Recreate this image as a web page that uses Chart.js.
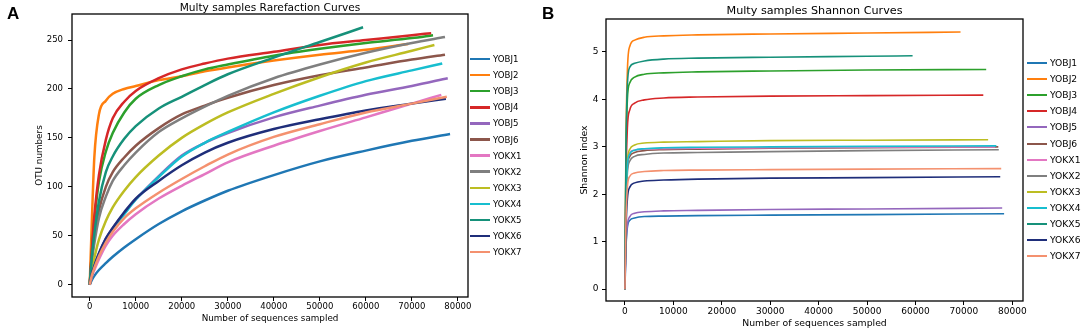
<!DOCTYPE html>
<html>
<head>
<meta charset="utf-8">
<script src="https://cdn.jsdelivr.net/npm/chart.js@4.4.0/dist/chart.umd.min.js"></script>
<style>
  body { margin: 0; background: #fff; width: 1084px; height: 330px; overflow: hidden; font-family: "DejaVu Sans", sans-serif; color: #000; }
  .panel { position: absolute; top: 0; height: 330px; }
  .panel canvas { position: absolute; left: 0; top: 0; }
  .txt { position: absolute; white-space: nowrap; line-height: 1; }
  .center { transform: translate(-50%, -50%); }
  .letter { font: bold 17px "Liberation Sans", Arial, sans-serif; line-height: 17px; }
  .swatch { position: absolute; }
</style>
</head>
<body>
<div class="panel" style="left:0;width:540px"><canvas id="rare" width="540" height="330"></canvas></div>
<div class="panel" style="left:540px;width:544px"><canvas id="shannon" width="544" height="330"></canvas></div>
<div id="overlay"></div>

<script>
// sample names and line colours
const samples = ["YOBJ1", "YOBJ2", "YOBJ3", "YOBJ4", "YOBJ5", "YOBJ6", "YOKX1", "YOKX2", "YOKX3", "YOKX4", "YOKX5", "YOKX6", "YOKX7"];
const colors = ["#1f77b4", "#ff7f0e", "#2ca02c", "#d62728", "#9467bd", "#8c564b", "#e377c2", "#7f7f7f", "#bcbd22", "#17becf", "#16917a", "#1f2e7a", "#f4916f"];

// A: rarefaction, sequences sampled grid + OTU numbers per sample
const rareGrid = [0, 500, 1000, 2000, 3500, 5000, 7500, 10000, 15000, 20000, 25000, 30000, 40000, 50000, 60000, 70000];
const otuYOBJ1 = [0, 5, 9, 15, 22, 28.5, 38, 46.5, 62, 75, 86, 96, 112, 126, 137, 147];
const otuYOBJ2 = [0, 70, 130, 174, 188, 195, 200, 203, 209, 213, 218, 222, 229, 235, 240];
const otuYOBJ3 = [0, 35, 65, 105, 136, 155, 176, 190, 204, 213, 220, 225, 234, 241, 247, 252];
const otuYOBJ4 = [0, 38, 70, 112, 148, 170, 187, 198, 211, 220, 226, 231, 238, 245, 250, 255];
const otuYOBJ5 = [0, 12, 20, 32, 47, 58, 73, 87, 111, 132, 145, 155, 171, 183, 194, 203];
const otuYOBJ6 = [0, 28, 48, 76, 100, 115, 130, 142, 160, 174, 183, 191, 204, 214, 222, 230];
const otuYOKX1 = [0, 9, 15, 26, 40, 50, 62, 72, 88, 101, 113, 125, 142, 157, 171, 185];
const otuYOKX2 = [0, 25, 42, 68, 90, 106, 122, 135, 156, 170, 182, 193, 211, 225, 237, 247];
const otuYOKX3 = [0, 15, 27, 46, 65, 79, 96, 110, 132, 150, 164, 176, 195, 212, 227, 239];
const otuYOKX4 = [0, 11, 19, 31, 46, 57, 72, 87, 110, 131, 145, 156, 176, 193, 208, 219];
const otuYOKX5 = [0, 30, 52, 85, 115, 131, 149, 162, 180, 192, 204, 215, 232, 248];
const otuYOKX6 = [0, 11, 19, 32, 47, 58, 74, 88, 106, 122, 135, 145, 159, 169, 178, 185];
const otuYOKX7 = [0, 10, 17, 29, 43, 54, 68, 78, 94, 108, 121, 133, 151, 164, 176, 185];
const rareEndX = [78300, 69200, 74600, 74200, 77800, 77200, 76400, 77200, 74900, 76600, 59400, 77400, 77600];
const rareEndY = [154, 246, 255, 257, 211, 235, 194, 253, 245, 226, 263, 190, 192];

// B: Shannon index per sample
const shanGrid = [0, 200, 500, 1000, 2000, 4000, 8000, 15000, 30000, 50000];
const shanYOBJ1 = [0, 0.85, 1.30, 1.45, 1.50, 1.53, 1.54, 1.55, 1.56, 1.57];
const shanYOBJ2 = [0, 3.00, 4.60, 5.12, 5.25, 5.31, 5.34, 5.36, 5.38, 5.40];
const shanYOBJ3 = [0, 2.60, 4.00, 4.35, 4.47, 4.53, 4.56, 4.58, 4.60, 4.62];
const shanYOBJ4 = [0, 2.20, 3.40, 3.78, 3.92, 3.99, 4.03, 4.05, 4.07, 4.08];
const shanYOBJ5 = [0, 0.90, 1.35, 1.53, 1.60, 1.63, 1.65, 1.66, 1.68, 1.69];
const shanYOBJ6 = [0, 1.60, 2.55, 2.80, 2.88, 2.92, 2.94, 2.95, 2.97, 2.98];
const shanYOKX1 = [0, 1.70, 2.65, 2.88, 2.93, 2.95, 2.96, 2.97, 2.98, 2.99];
const shanYOKX2 = [0, 1.60, 2.45, 2.70, 2.80, 2.84, 2.87, 2.88, 2.90, 2.92];
const shanYOKX3 = [0, 1.80, 2.70, 2.95, 3.04, 3.08, 3.10, 3.11, 3.13, 3.14];
const shanYOKX4 = [0, 1.70, 2.60, 2.85, 2.93, 2.96, 2.98, 2.99, 3.00, 3.01];
const shanYOKX5 = [0, 2.80, 4.30, 4.68, 4.76, 4.81, 4.85, 4.87, 4.89, 4.91];
const shanYOKX6 = [0, 1.20, 1.90, 2.15, 2.24, 2.28, 2.30, 2.32, 2.34, 2.35];
const shanYOKX7 = [0, 1.40, 2.15, 2.38, 2.45, 2.48, 2.50, 2.51, 2.52, 2.53];
const shanEndX = [78300, 69300, 74600, 74000, 77900, 77100, 76400, 77200, 75000, 76700, 59400, 77500, 77700];
const shanEndY = [1.59, 5.42, 4.63, 4.09, 1.71, 3.00, 3.00, 2.94, 3.15, 3.02, 4.92, 2.37, 2.54];

// tick labels
const xTicks = [0, 10000, 20000, 30000, 40000, 50000, 60000, 70000, 80000];
const otuTicks = [0, 50, 100, 150, 200, 250];
const shanTicks = [0, 1, 2, 3, 4, 5];

const otuValues = [otuYOBJ1, otuYOBJ2, otuYOBJ3, otuYOBJ4, otuYOBJ5, otuYOBJ6, otuYOKX1, otuYOKX2, otuYOKX3, otuYOKX4, otuYOKX5, otuYOKX6, otuYOKX7];
const shanValues = [shanYOBJ1, shanYOBJ2, shanYOBJ3, shanYOBJ4, shanYOBJ5, shanYOBJ6, shanYOKX1, shanYOKX2, shanYOKX3, shanYOKX4, shanYOKX5, shanYOKX6, shanYOKX7];

function toPoints(grid, values, endX, endY) {
    const pts = values.map((v, i) => ({ x: grid[i], y: v }));
    pts.push({ x: endX, y: endY });
    return pts;
}

function makeDatasets(grid, all, endX, endY, width) {
    return samples.map((name, i) => ({
        label: name,
        data: toPoints(grid, all[i], endX[i], endY[i]),
        borderColor: colors[i],
        borderWidth: width,
        pointRadius: 0,
        fill: false,
        cubicInterpolationMode: "monotone",
        // later samples on top, like the original plot
        order: samples.length - i,
    }));
}

// box around the plot area
const frame = {
    id: "frame",
    afterDraw(chart) {
        const { ctx, chartArea: a } = chart;
        ctx.save();
        ctx.strokeStyle = "#000";
        ctx.lineWidth = 1.3;
        ctx.strokeRect(a.left, a.top, a.right - a.left, a.bottom - a.top);
        ctx.restore();
    },
};

function tickGrid() {
    return { display: true, drawOnChartArea: false, drawTicks: true, tickLength: 4, color: "#000", lineWidth: 1 };
}

function makeChart(id, cfg) {
    return new Chart(document.getElementById(id), {
        type: "line",
        data: { datasets: cfg.datasets },
        options: {
            responsive: false,
            animation: false,
            layout: { padding: { left: 0, top: cfg.top, right: cfg.right, bottom: 0 } },
            plugins: { legend: { display: false }, tooltip: { enabled: false } },
            scales: {
                x: {
                    type: "linear",
                    min: cfg.xMin,
                    max: cfg.xMax,
                    afterBuildTicks: (s) => { s.ticks = xTicks.map((v) => ({ value: v })); },
                    afterFit: (s) => { s.height = cfg.xHeight; },
                    ticks: { callback: (v) => String(v), color: "#000", font: { size: cfg.tickSize }, padding: cfg.xPad, maxRotation: 0, autoSkip: false },
                    grid: tickGrid(),
                    border: { display: false },
                    title: { display: true, text: "Number of sequences sampled", color: "#000", font: { size: cfg.labelSize }, padding: { top: 0, bottom: cfg.xTitlePad } },
                },
                y: {
                    type: "linear",
                    min: cfg.yMin,
                    max: cfg.yMax,
                    afterBuildTicks: (s) => { s.ticks = cfg.yTicks.map((v) => ({ value: v })); },
                    afterFit: (s) => { s.width = cfg.yWidth; },
                    ticks: { callback: (v) => String(v), color: "#000", font: { size: cfg.tickSize }, padding: cfg.yPad },
                    grid: tickGrid(),
                    border: { display: false },
                    title: { display: true, text: cfg.yTitle, color: "#000", font: { size: cfg.labelSize }, padding: { top: cfg.yTitlePad, bottom: 0 } },
                },
            },
        },
        plugins: [frame],
    });
}

Chart.defaults.font.family = "'DejaVu Sans', sans-serif";

makeChart("rare", {
    datasets: makeDatasets(rareGrid, otuValues, rareEndX, rareEndY, 2.5),
    top: 14, right: 72, xHeight: 33, yWidth: 72,
    xMin: -3850, xMax: 82200, yMin: -12.6, yMax: 276.6, yTicks: otuTicks,
    tickSize: 8.5, labelSize: 8.8, xPad: 1, yPad: 5, xTitlePad: 6.4, yTitlePad: 34.7,
    yTitle: "OTU numbers",
});

makeChart("shannon", {
    datasets: makeDatasets(shanGrid, shanValues, shanEndX, shanEndY, 1.6),
    top: 19, right: 61, xHeight: 29, yWidth: 66,
    xMin: -3915, xMax: 82200, yMin: -0.25, yMax: 5.695, yTicks: shanTicks,
    tickSize: 9, labelSize: 9.3, xPad: 1.3, yPad: 3.5, xTitlePad: 1.1, yTitlePad: 39.4,
    yTitle: "Shannon index",
});

// titles, panel letters and legends as page text
const overlay = document.getElementById("overlay");
function addText(text, x, y, size, cls) {
    const d = document.createElement("div");
    d.className = "txt " + (cls || "");
    d.textContent = text;
    d.style.left = x + "px";
    d.style.top = y + "px";
    if (size) d.style.fontSize = size + "px";
    overlay.appendChild(d);
    return d;
}
addText("Multy samples Rarefaction Curves", 270, 6.5, 10.6, "center");
addText("Multy samples Shannon Curves", 814.5, 11, 11.2, "center");
addText("A", 7, 5, 0, "letter");
addText("B", 542, 5, 0, "letter");

function addLegend(x0, y0, step, size, lw) {
    samples.forEach((name, i) => {
        const y = y0 + step * i;
        const sw = document.createElement("div");
        sw.className = "swatch";
        sw.style.left = x0 + "px";
        sw.style.top = (y - lw / 2) + "px";
        sw.style.width = "20px";
        sw.style.height = lw + "px";
        sw.style.background = colors[i];
        overlay.appendChild(sw);
        const t = addText(name, x0 + 23, y, size);
        t.style.transform = "translateY(-50%)";
    });
}
addLegend(470, 59, 16.1, 8.6, 2.5);
addLegend(1027, 63, 16.1, 9.2, 2);
</script>
</body>
</html>
